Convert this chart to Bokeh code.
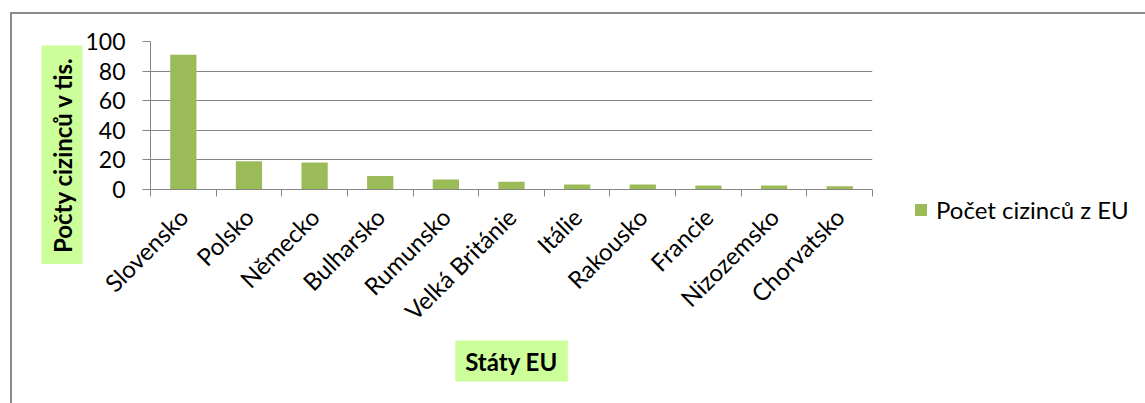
import math
from bokeh.plotting import figure
from bokeh.models import (Range1d, FixedTicker, Title, Legend, LegendItem,
                          ColumnDataSource)
from bokeh.embed import file_html
from bokeh.resources import INLINE

countries = ["Slovensko", "Polsko", "Německo", "Bulharsko", "Rumunsko",
             "Velká Británie", "Itálie", "Rakousko", "Francie", "Nizozemsko",
             "Chorvatsko"]
values = [91.0, 19.1, 18.2, 9.2, 6.8, 5.3, 3.4, 3.4, 2.7, 2.7, 2.2]
y_ticks = [0, 20, 40, 60, 80, 100]
series_name = "Počet cizinců z EU"
y_title = "Počty cizinců v tis."
x_title = "Státy EU"

FONT = "Lato"
BAR = "#9BBB59"
GRID = "#868686"
BOXBG = "#CCFF99"

n = len(countries)
centers = [i + 0.5 for i in range(n)]
src = ColumnDataSource(dict(x=centers, top=values, name=countries))

p = figure(frame_width=722, frame_height=148, output_backend="svg",
           toolbar_location=None,
           x_range=Range1d(0, n), y_range=Range1d(0, 100),
           min_border_left=138, min_border_right=273,
           min_border_top=27, min_border_bottom=214)
p.styles = {"margin-left": "10px", "margin-top": "12px",
            "border-left": "2px solid #8a8a8a",
            "border-top": "2px solid #8a8a8a"}
p.outline_line_color = None
p.background_fill_color = "white"
p.border_fill_color = "white"

r = p.vbar(x="x", top="top", width=0.4, source=src, fill_color=BAR,
           line_color=None)

p.yaxis.ticker = FixedTicker(ticks=y_ticks)
p.yaxis.axis_line_color = GRID
p.yaxis.major_tick_line_color = GRID
p.yaxis.major_tick_out = 8
p.yaxis.major_tick_in = 0
p.yaxis.minor_tick_line_color = None
p.yaxis.major_label_text_font = FONT
p.yaxis.major_label_text_font_size = "23px"
p.yaxis.major_label_text_color = "black"
p.yaxis.major_label_standoff = 17

p.xaxis.ticker = FixedTicker(ticks=centers, minor_ticks=list(range(n + 1)))
p.xaxis.major_label_overrides = {c: name for c, name in zip(centers, countries)}
p.xaxis.major_tick_line_color = None
p.xaxis.minor_tick_line_color = GRID
p.xaxis.minor_tick_out = 7
p.xaxis.minor_tick_in = 0
p.xaxis.axis_line_color = GRID
p.xaxis.major_label_orientation = math.pi / 4
p.xaxis.major_label_text_font = FONT
p.xaxis.major_label_text_font_size = "24px"
p.xaxis.major_label_text_color = "black"
p.xaxis.major_label_standoff = 16

p.xgrid.grid_line_color = None
p.ygrid.grid_line_color = GRID
p.ygrid.ticker = FixedTicker(ticks=y_ticks)

ytitle = Title(text=y_title, align="right", offset=4,
               text_font=FONT, text_font_style="bold", text_font_size="24px",
               text_color="black", background_fill_color=BOXBG,
               padding=(11, 6), standoff=0)
xtitle = Title(text=x_title, align="center",
               text_font=FONT, text_font_style="bold", text_font_size="24px",
               text_color="black", background_fill_color=BOXBG,
               padding=(10, 6), standoff=0)
p.add_layout(ytitle, "left")
p.add_layout(xtitle, "below")

legend = Legend(items=[LegendItem(label=series_name, renderers=[r])],
                location=(41, -35), padding=0, margin=0,
                glyph_width=15, glyph_height=15, label_standoff=8,
                label_text_font=FONT, label_text_font_size="24px",
                label_text_color="black", border_line_color=None,
                background_fill_alpha=0)
p.add_layout(legend, "right")

open("out.html", "w").write(file_html(p, INLINE))
